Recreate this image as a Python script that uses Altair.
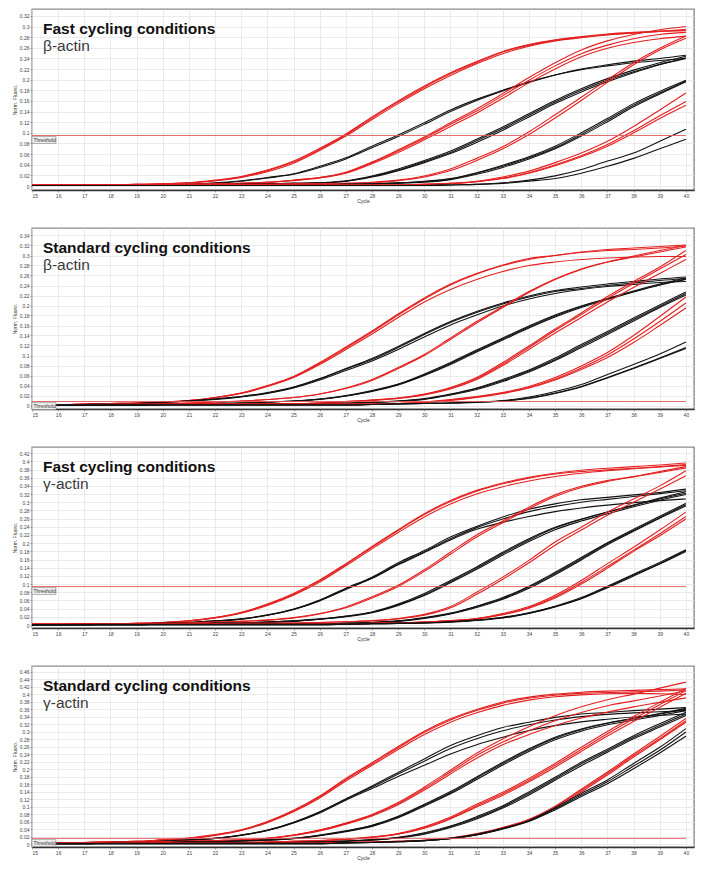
import altair as alt
import pandas as pd

CYCLES = [15, 16, 17, 18, 19, 20, 21, 22, 23, 24, 25, 26, 27, 28, 29, 30,
          31, 32, 33, 34, 35, 36, 37, 38, 39, 40]

# ---------------- Panel 1: Fast cycling, beta-actin ----------------
P1_R1A = [0.002,0.002,0.002,0.002,0.003,0.004,0.006,0.010,0.017,0.029,0.045,0.069,0.096,0.128,0.158,0.186,0.211,0.232,0.252,0.265,0.274,0.280,0.285,0.288,0.291,0.293]
P1_R1B = [0.002,0.002,0.002,0.002,0.003,0.004,0.006,0.010,0.016,0.027,0.043,0.067,0.094,0.125,0.155,0.183,0.208,0.230,0.249,0.263,0.273,0.279,0.284,0.288,0.291,0.295]
P1_R1C = [0.002,0.002,0.002,0.002,0.003,0.004,0.006,0.011,0.018,0.030,0.047,0.071,0.098,0.130,0.160,0.188,0.213,0.234,0.253,0.266,0.275,0.281,0.286,0.289,0.291,0.292]
P1_K1A = [0.001,0.001,0.001,0.001,0.001,0.002,0.003,0.006,0.010,0.016,0.023,0.037,0.053,0.075,0.096,0.119,0.143,0.163,0.180,0.196,0.209,0.219,0.226,0.232,0.236,0.240]
P1_K1B = [0.001,0.001,0.001,0.001,0.001,0.002,0.003,0.005,0.009,0.015,0.022,0.035,0.051,0.072,0.093,0.116,0.140,0.161,0.179,0.195,0.209,0.220,0.228,0.235,0.240,0.246]
P1_R2A = [0.002,0.002,0.002,0.002,0.002,0.002,0.003,0.004,0.005,0.007,0.011,0.016,0.026,0.045,0.068,0.092,0.119,0.145,0.174,0.204,0.232,0.256,0.273,0.285,0.294,0.300]
P1_R2B = [0.002,0.002,0.002,0.002,0.002,0.002,0.003,0.004,0.005,0.007,0.011,0.016,0.025,0.044,0.066,0.090,0.116,0.141,0.170,0.199,0.226,0.249,0.265,0.277,0.285,0.289]
P1_R2C = [0.002,0.002,0.002,0.002,0.002,0.002,0.003,0.004,0.005,0.007,0.010,0.015,0.024,0.042,0.063,0.087,0.112,0.137,0.165,0.194,0.220,0.243,0.259,0.270,0.277,0.282]
P1_K2A = [0.001,0.001,0.001,0.001,0.001,0.001,0.002,0.002,0.003,0.004,0.005,0.006,0.010,0.019,0.032,0.048,0.066,0.088,0.111,0.136,0.161,0.183,0.202,0.218,0.232,0.244]
P1_K2B = [0.001,0.001,0.001,0.001,0.001,0.001,0.002,0.002,0.003,0.004,0.005,0.006,0.009,0.018,0.030,0.046,0.063,0.085,0.108,0.133,0.158,0.180,0.199,0.215,0.229,0.241]
P1_K2C = [0.001,0.001,0.001,0.001,0.001,0.001,0.002,0.002,0.003,0.004,0.005,0.006,0.009,0.017,0.029,0.044,0.061,0.082,0.105,0.130,0.155,0.177,0.196,0.213,0.228,0.240]
P1_R3A = [0.002,0.002,0.002,0.002,0.002,0.002,0.002,0.002,0.003,0.003,0.004,0.004,0.005,0.007,0.011,0.019,0.032,0.052,0.074,0.102,0.134,0.167,0.200,0.232,0.259,0.282]
P1_R3B = [0.002,0.002,0.002,0.002,0.002,0.002,0.002,0.002,0.003,0.003,0.004,0.004,0.005,0.006,0.010,0.017,0.029,0.048,0.070,0.097,0.128,0.161,0.195,0.228,0.256,0.278]
P1_K3A = [0.001,0.001,0.001,0.001,0.001,0.001,0.001,0.001,0.001,0.001,0.002,0.002,0.003,0.004,0.006,0.008,0.013,0.024,0.037,0.053,0.072,0.097,0.124,0.152,0.175,0.197]
P1_K3B = [0.001,0.001,0.001,0.001,0.001,0.001,0.001,0.001,0.001,0.001,0.002,0.002,0.003,0.004,0.005,0.007,0.012,0.022,0.035,0.051,0.070,0.094,0.121,0.149,0.173,0.196]
P1_K3C = [0.001,0.001,0.001,0.001,0.001,0.001,0.001,0.001,0.001,0.001,0.002,0.002,0.003,0.004,0.006,0.009,0.014,0.025,0.039,0.055,0.075,0.100,0.127,0.155,0.178,0.199]
P1_R4A = [0.002,0.002,0.002,0.002,0.002,0.002,0.002,0.002,0.002,0.002,0.002,0.002,0.002,0.002,0.002,0.003,0.005,0.009,0.017,0.028,0.044,0.062,0.084,0.112,0.143,0.175]
P1_R4B = [0.002,0.002,0.002,0.002,0.002,0.002,0.002,0.002,0.002,0.002,0.002,0.002,0.002,0.002,0.002,0.003,0.005,0.008,0.015,0.025,0.040,0.057,0.078,0.104,0.132,0.159]
P1_R4C = [0.002,0.002,0.002,0.002,0.002,0.002,0.002,0.002,0.002,0.002,0.002,0.002,0.002,0.002,0.002,0.003,0.004,0.008,0.014,0.024,0.038,0.055,0.075,0.100,0.127,0.152]
P1_K4A = [0.001,0.001,0.001,0.001,0.001,0.001,0.001,0.001,0.001,0.001,0.001,0.001,0.001,0.001,0.001,0.001,0.002,0.003,0.006,0.011,0.019,0.031,0.047,0.062,0.084,0.107]
P1_K4B = [0.001,0.001,0.001,0.001,0.001,0.001,0.001,0.001,0.001,0.001,0.001,0.001,0.001,0.001,0.001,0.001,0.002,0.003,0.005,0.009,0.014,0.024,0.037,0.052,0.070,0.088]
P1_THRESHOLD = 0.095
P1_TICKS = [0, 0.02, 0.04, 0.06, 0.08, 0.1, 0.12, 0.14, 0.16, 0.18, 0.2, 0.22, 0.24, 0.26, 0.28, 0.3, 0.32]

# ---------------- Panel 2: Standard cycling, beta-actin ----------------
P2_R1A = [0.002,0.002,0.003,0.004,0.005,0.007,0.010,0.016,0.025,0.040,0.058,0.086,0.117,0.149,0.183,0.215,0.243,0.264,0.281,0.294,0.300,0.306,0.310,0.312,0.315,0.319]
P2_R1B = [0.002,0.002,0.003,0.004,0.005,0.007,0.010,0.016,0.025,0.039,0.057,0.084,0.115,0.147,0.181,0.213,0.241,0.263,0.280,0.292,0.300,0.307,0.312,0.315,0.318,0.321]
P2_R1C = [0.002,0.002,0.003,0.004,0.005,0.007,0.010,0.015,0.024,0.038,0.056,0.082,0.112,0.143,0.176,0.207,0.232,0.252,0.268,0.280,0.287,0.292,0.295,0.297,0.298,0.298]
P2_K1A = [0.001,0.001,0.002,0.003,0.004,0.006,0.009,0.013,0.018,0.025,0.036,0.053,0.073,0.092,0.116,0.142,0.166,0.186,0.203,0.217,0.228,0.234,0.240,0.245,0.250,0.254]
P2_K1B = [0.001,0.001,0.002,0.003,0.004,0.006,0.009,0.012,0.017,0.024,0.035,0.051,0.070,0.089,0.112,0.137,0.161,0.181,0.199,0.213,0.224,0.232,0.238,0.242,0.246,0.248]
P2_K1C = [0.001,0.001,0.002,0.003,0.004,0.006,0.009,0.013,0.018,0.026,0.037,0.054,0.074,0.094,0.118,0.144,0.168,0.188,0.205,0.219,0.230,0.237,0.243,0.248,0.253,0.257]
P2_R2A = [0.002,0.002,0.002,0.003,0.003,0.004,0.005,0.007,0.009,0.012,0.016,0.023,0.035,0.052,0.076,0.102,0.135,0.168,0.198,0.228,0.253,0.273,0.287,0.297,0.307,0.317]
P2_R2B = [0.002,0.002,0.002,0.003,0.003,0.004,0.005,0.007,0.009,0.012,0.016,0.023,0.034,0.050,0.074,0.100,0.132,0.165,0.196,0.226,0.252,0.272,0.287,0.299,0.310,0.320]
P2_K2A = [0.001,0.001,0.001,0.002,0.002,0.003,0.003,0.004,0.005,0.007,0.009,0.013,0.020,0.030,0.043,0.063,0.086,0.111,0.135,0.159,0.181,0.199,0.214,0.228,0.241,0.252]
P2_K2B = [0.001,0.001,0.001,0.002,0.002,0.003,0.003,0.004,0.005,0.007,0.009,0.013,0.019,0.029,0.042,0.061,0.084,0.109,0.133,0.157,0.179,0.198,0.214,0.229,0.243,0.255]
P2_K2C = [0.001,0.001,0.001,0.002,0.002,0.003,0.003,0.004,0.005,0.007,0.009,0.012,0.019,0.028,0.041,0.060,0.082,0.107,0.131,0.155,0.177,0.196,0.212,0.227,0.241,0.253]
P2_R3A = [0.002,0.002,0.002,0.002,0.002,0.003,0.003,0.003,0.003,0.004,0.004,0.005,0.008,0.011,0.015,0.023,0.036,0.056,0.086,0.119,0.153,0.185,0.218,0.248,0.277,0.310]
P2_R3B = [0.002,0.002,0.002,0.002,0.002,0.003,0.003,0.003,0.003,0.004,0.004,0.005,0.008,0.011,0.015,0.022,0.035,0.054,0.083,0.116,0.150,0.182,0.214,0.244,0.273,0.302]
P2_R3C = [0.002,0.002,0.002,0.002,0.002,0.003,0.003,0.003,0.003,0.004,0.004,0.005,0.007,0.010,0.014,0.021,0.033,0.052,0.080,0.112,0.145,0.176,0.207,0.236,0.264,0.292]
P2_K3A = [0.001,0.001,0.001,0.001,0.001,0.002,0.002,0.002,0.003,0.003,0.003,0.004,0.004,0.006,0.009,0.013,0.022,0.034,0.050,0.069,0.092,0.119,0.145,0.172,0.198,0.224]
P2_K3B = [0.001,0.001,0.001,0.001,0.001,0.002,0.002,0.002,0.003,0.003,0.003,0.004,0.004,0.006,0.008,0.012,0.021,0.032,0.048,0.067,0.090,0.116,0.142,0.169,0.196,0.221]
P2_K3C = [0.001,0.001,0.001,0.001,0.001,0.002,0.002,0.002,0.003,0.003,0.003,0.004,0.005,0.007,0.009,0.014,0.023,0.035,0.052,0.071,0.095,0.122,0.148,0.175,0.201,0.227]
P2_R4A = [0.002,0.002,0.002,0.002,0.002,0.002,0.003,0.003,0.003,0.003,0.003,0.003,0.003,0.003,0.004,0.007,0.012,0.018,0.026,0.038,0.056,0.079,0.106,0.140,0.178,0.217]
P2_R4B = [0.002,0.002,0.002,0.002,0.002,0.002,0.003,0.003,0.003,0.003,0.003,0.003,0.003,0.003,0.004,0.007,0.011,0.017,0.025,0.036,0.053,0.075,0.101,0.133,0.168,0.205]
P2_R4C = [0.002,0.002,0.002,0.002,0.002,0.002,0.003,0.003,0.003,0.003,0.003,0.003,0.003,0.003,0.004,0.006,0.010,0.016,0.024,0.035,0.051,0.072,0.096,0.126,0.160,0.195]
P2_K4A = [0.001,0.001,0.001,0.001,0.001,0.001,0.001,0.001,0.001,0.001,0.001,0.001,0.001,0.002,0.003,0.004,0.005,0.007,0.010,0.017,0.028,0.042,0.062,0.082,0.103,0.127]
P2_K4B = [0.001,0.001,0.001,0.001,0.001,0.001,0.001,0.001,0.001,0.001,0.001,0.001,0.001,0.002,0.003,0.004,0.005,0.007,0.009,0.015,0.025,0.038,0.056,0.075,0.095,0.116]
P2_K4C = [0.001,0.001,0.001,0.001,0.001,0.001,0.001,0.001,0.001,0.001,0.001,0.001,0.001,0.002,0.003,0.004,0.005,0.006,0.009,0.014,0.024,0.037,0.055,0.074,0.094,0.114]
P2_THRESHOLD = 0.008
P2_TICKS = [0, 0.02, 0.04, 0.06, 0.08, 0.1, 0.12, 0.14, 0.16, 0.18, 0.2, 0.22, 0.24, 0.26, 0.28, 0.3, 0.32, 0.34]

# ---------------- Panel 3: Fast cycling, gamma-actin ----------------
P3_R1A = [0.002,0.002,0.003,0.003,0.004,0.006,0.010,0.018,0.030,0.050,0.075,0.108,0.148,0.190,0.231,0.270,0.302,0.327,0.345,0.359,0.369,0.375,0.379,0.383,0.387,0.392]
P3_R1B = [0.002,0.002,0.003,0.003,0.004,0.006,0.010,0.017,0.029,0.048,0.073,0.105,0.145,0.186,0.226,0.264,0.296,0.320,0.338,0.352,0.363,0.371,0.377,0.382,0.386,0.390]
P3_R1C = [0.002,0.002,0.003,0.003,0.004,0.006,0.010,0.018,0.031,0.051,0.077,0.110,0.150,0.192,0.233,0.272,0.304,0.329,0.347,0.361,0.371,0.378,0.383,0.387,0.391,0.396]
P3_K1A = [0.001,0.001,0.002,0.002,0.003,0.004,0.006,0.010,0.015,0.025,0.039,0.061,0.090,0.117,0.152,0.182,0.215,0.241,0.264,0.283,0.296,0.306,0.312,0.318,0.324,0.332]
P3_K1B = [0.001,0.001,0.002,0.002,0.003,0.004,0.006,0.010,0.015,0.024,0.038,0.059,0.087,0.114,0.147,0.177,0.208,0.234,0.251,0.265,0.277,0.286,0.293,0.299,0.304,0.308]
P3_K1C = [0.001,0.001,0.002,0.002,0.003,0.004,0.006,0.009,0.014,0.024,0.038,0.060,0.088,0.115,0.149,0.179,0.211,0.238,0.259,0.277,0.290,0.300,0.307,0.314,0.321,0.328]
P3_R2A = [0.002,0.002,0.002,0.002,0.003,0.004,0.005,0.007,0.009,0.012,0.018,0.028,0.044,0.069,0.097,0.135,0.178,0.220,0.254,0.288,0.318,0.339,0.353,0.363,0.375,0.387]
P3_R2B = [0.002,0.002,0.002,0.002,0.003,0.004,0.005,0.007,0.009,0.012,0.017,0.027,0.042,0.066,0.094,0.131,0.173,0.215,0.250,0.284,0.314,0.336,0.351,0.362,0.373,0.384]
P3_K2A = [0.001,0.001,0.001,0.002,0.002,0.003,0.003,0.004,0.005,0.007,0.010,0.015,0.022,0.032,0.051,0.077,0.109,0.142,0.178,0.211,0.239,0.259,0.276,0.292,0.308,0.322]
P3_K2B = [0.001,0.001,0.001,0.002,0.002,0.003,0.003,0.004,0.005,0.007,0.010,0.014,0.021,0.031,0.049,0.074,0.106,0.139,0.175,0.208,0.237,0.258,0.276,0.293,0.310,0.326]
P3_K2C = [0.001,0.001,0.001,0.002,0.002,0.003,0.003,0.004,0.005,0.007,0.009,0.014,0.020,0.030,0.048,0.072,0.103,0.136,0.171,0.204,0.233,0.254,0.272,0.289,0.305,0.319]
P3_R3A = [0.002,0.002,0.002,0.002,0.002,0.003,0.003,0.003,0.004,0.004,0.005,0.006,0.008,0.011,0.016,0.026,0.045,0.080,0.117,0.158,0.203,0.239,0.276,0.308,0.340,0.377]
P3_R3B = [0.002,0.002,0.002,0.002,0.002,0.003,0.003,0.003,0.004,0.004,0.005,0.006,0.008,0.010,0.015,0.024,0.042,0.075,0.112,0.152,0.195,0.232,0.268,0.300,0.332,0.365]
P3_K3A = [0.001,0.001,0.001,0.001,0.001,0.002,0.002,0.002,0.003,0.003,0.003,0.003,0.004,0.006,0.010,0.017,0.028,0.045,0.065,0.093,0.126,0.162,0.199,0.231,0.263,0.294]
P3_K3B = [0.001,0.001,0.001,0.001,0.001,0.002,0.002,0.002,0.003,0.003,0.003,0.003,0.004,0.006,0.009,0.016,0.027,0.043,0.063,0.090,0.123,0.159,0.196,0.229,0.261,0.291]
P3_K3C = [0.001,0.001,0.001,0.001,0.001,0.002,0.002,0.002,0.003,0.003,0.003,0.003,0.004,0.006,0.010,0.018,0.029,0.046,0.067,0.095,0.129,0.165,0.201,0.234,0.266,0.297]
P3_R4A = [0.002,0.002,0.002,0.002,0.002,0.002,0.002,0.002,0.002,0.002,0.002,0.002,0.002,0.004,0.005,0.007,0.011,0.016,0.028,0.045,0.073,0.109,0.150,0.190,0.232,0.276]
P3_R4B = [0.002,0.002,0.002,0.002,0.002,0.002,0.002,0.002,0.002,0.002,0.002,0.002,0.002,0.004,0.005,0.007,0.010,0.015,0.025,0.041,0.066,0.100,0.139,0.180,0.218,0.259]
P3_R4C = [0.002,0.002,0.002,0.002,0.002,0.002,0.002,0.002,0.002,0.002,0.002,0.002,0.002,0.004,0.005,0.007,0.010,0.015,0.026,0.043,0.069,0.104,0.143,0.183,0.223,0.265]
P3_K4A = [0.001,0.001,0.001,0.001,0.001,0.001,0.001,0.001,0.001,0.001,0.001,0.001,0.002,0.003,0.004,0.005,0.008,0.012,0.018,0.029,0.045,0.065,0.093,0.122,0.150,0.182]
P3_K4B = [0.001,0.001,0.001,0.001,0.001,0.001,0.001,0.001,0.001,0.001,0.001,0.001,0.002,0.003,0.004,0.005,0.007,0.011,0.017,0.028,0.044,0.064,0.091,0.120,0.149,0.180]
P3_K4C = [0.001,0.001,0.001,0.001,0.001,0.001,0.001,0.001,0.001,0.001,0.001,0.001,0.002,0.003,0.004,0.005,0.008,0.012,0.019,0.030,0.046,0.067,0.095,0.124,0.153,0.184]
P3_THRESHOLD = 0.094
P3_TICKS = [0, 0.02, 0.04, 0.06, 0.08, 0.1, 0.12, 0.14, 0.16, 0.18, 0.2, 0.22, 0.24, 0.26, 0.28, 0.3, 0.32, 0.34, 0.36, 0.38, 0.4, 0.42]

# ---------------- Panel 4: Standard cycling, gamma-actin ----------------
P4_R1A = [0.003,0.003,0.004,0.006,0.007,0.011,0.015,0.024,0.037,0.059,0.088,0.126,0.172,0.214,0.257,0.298,0.331,0.356,0.376,0.389,0.397,0.402,0.404,0.406,0.408,0.411]
P4_R1B = [0.003,0.003,0.004,0.006,0.007,0.011,0.015,0.023,0.036,0.057,0.086,0.123,0.168,0.210,0.252,0.292,0.325,0.350,0.370,0.384,0.393,0.398,0.401,0.402,0.401,0.399]
P4_R1C = [0.003,0.003,0.004,0.006,0.007,0.011,0.016,0.025,0.038,0.060,0.090,0.128,0.175,0.217,0.260,0.301,0.334,0.359,0.379,0.392,0.400,0.405,0.408,0.410,0.412,0.414]
P4_K1A = [0.002,0.002,0.003,0.004,0.005,0.007,0.011,0.015,0.024,0.037,0.058,0.086,0.120,0.155,0.191,0.227,0.263,0.289,0.311,0.325,0.338,0.347,0.351,0.356,0.360,0.364]
P4_K1B = [0.002,0.002,0.003,0.004,0.005,0.007,0.010,0.015,0.023,0.036,0.056,0.083,0.117,0.148,0.180,0.210,0.240,0.265,0.285,0.303,0.316,0.326,0.333,0.339,0.343,0.347]
P4_K1C = [0.002,0.002,0.003,0.004,0.005,0.007,0.011,0.015,0.024,0.036,0.057,0.085,0.120,0.152,0.187,0.221,0.255,0.281,0.302,0.318,0.331,0.340,0.346,0.350,0.353,0.356]
P4_R2A = [0.003,0.003,0.003,0.004,0.005,0.006,0.007,0.009,0.011,0.015,0.024,0.037,0.055,0.077,0.108,0.148,0.192,0.236,0.272,0.302,0.329,0.351,0.369,0.382,0.395,0.409]
P4_R2B = [0.003,0.003,0.003,0.004,0.005,0.006,0.007,0.009,0.011,0.015,0.024,0.037,0.056,0.079,0.111,0.152,0.197,0.242,0.280,0.313,0.342,0.366,0.385,0.400,0.416,0.432]
P4_R2C = [0.003,0.003,0.003,0.004,0.005,0.006,0.007,0.009,0.011,0.015,0.023,0.035,0.053,0.075,0.105,0.144,0.187,0.229,0.265,0.292,0.316,0.336,0.352,0.366,0.378,0.390]
P4_K2A = [0.002,0.002,0.002,0.003,0.004,0.004,0.005,0.006,0.008,0.011,0.015,0.024,0.035,0.050,0.074,0.106,0.140,0.179,0.218,0.254,0.285,0.307,0.323,0.335,0.347,0.360]
P4_K2B = [0.002,0.002,0.002,0.003,0.004,0.004,0.005,0.006,0.008,0.011,0.015,0.023,0.034,0.049,0.072,0.104,0.137,0.176,0.215,0.251,0.282,0.305,0.322,0.335,0.348,0.362]
P4_K2C = [0.002,0.002,0.002,0.003,0.004,0.004,0.005,0.006,0.008,0.010,0.014,0.022,0.033,0.047,0.070,0.101,0.134,0.172,0.211,0.247,0.278,0.301,0.318,0.331,0.343,0.356]
P4_R3A = [0.002,0.002,0.002,0.003,0.003,0.003,0.004,0.004,0.004,0.005,0.007,0.009,0.013,0.019,0.028,0.046,0.072,0.106,0.138,0.175,0.215,0.258,0.300,0.340,0.378,0.415]
P4_R3B = [0.002,0.002,0.002,0.003,0.003,0.003,0.004,0.004,0.004,0.005,0.007,0.009,0.012,0.018,0.027,0.044,0.069,0.102,0.134,0.170,0.210,0.252,0.294,0.334,0.372,0.409]
P4_R3C = [0.002,0.002,0.002,0.003,0.003,0.003,0.004,0.004,0.004,0.005,0.007,0.009,0.012,0.018,0.026,0.042,0.067,0.099,0.130,0.166,0.205,0.247,0.288,0.327,0.365,0.402]
P4_K3A = [0.001,0.001,0.001,0.002,0.002,0.002,0.003,0.003,0.003,0.003,0.004,0.005,0.008,0.011,0.017,0.028,0.046,0.070,0.099,0.135,0.174,0.214,0.249,0.285,0.316,0.347]
P4_K3B = [0.001,0.001,0.001,0.002,0.002,0.002,0.003,0.003,0.003,0.003,0.004,0.005,0.007,0.010,0.016,0.026,0.044,0.067,0.096,0.131,0.170,0.209,0.245,0.281,0.312,0.343]
P4_K3C = [0.001,0.001,0.001,0.002,0.002,0.002,0.003,0.003,0.003,0.003,0.004,0.005,0.008,0.012,0.018,0.030,0.048,0.073,0.102,0.139,0.178,0.218,0.253,0.289,0.321,0.352]
P4_R4A = [0.002,0.002,0.002,0.002,0.002,0.002,0.002,0.002,0.002,0.002,0.002,0.002,0.004,0.005,0.007,0.010,0.016,0.027,0.043,0.064,0.099,0.143,0.188,0.236,0.281,0.329]
P4_R4B = [0.002,0.002,0.002,0.002,0.002,0.002,0.002,0.002,0.002,0.002,0.002,0.002,0.004,0.005,0.007,0.010,0.015,0.025,0.041,0.062,0.096,0.139,0.184,0.232,0.278,0.325]
P4_R4C = [0.002,0.002,0.002,0.002,0.002,0.002,0.002,0.002,0.002,0.002,0.002,0.002,0.004,0.005,0.007,0.010,0.016,0.027,0.044,0.066,0.101,0.146,0.192,0.240,0.287,0.335]
P4_K4A = [0.001,0.001,0.001,0.001,0.001,0.001,0.001,0.001,0.001,0.001,0.001,0.001,0.003,0.004,0.006,0.009,0.015,0.026,0.042,0.063,0.097,0.135,0.171,0.215,0.258,0.308]
P4_K4B = [0.001,0.001,0.001,0.001,0.001,0.001,0.001,0.001,0.001,0.001,0.001,0.001,0.003,0.004,0.006,0.009,0.015,0.025,0.041,0.062,0.094,0.131,0.166,0.208,0.250,0.299]
P4_K4C = [0.001,0.001,0.001,0.001,0.001,0.001,0.001,0.001,0.001,0.001,0.001,0.001,0.003,0.004,0.006,0.009,0.014,0.024,0.040,0.060,0.091,0.127,0.161,0.201,0.243,0.288]
P4_THRESHOLD = 0.015
P4_TICKS = [0, 0.02, 0.04, 0.06, 0.08, 0.1, 0.12, 0.14, 0.16, 0.18, 0.2, 0.22, 0.24, 0.26, 0.28, 0.3, 0.32, 0.34, 0.36, 0.38, 0.4, 0.42, 0.44, 0.46]

TITLES = ["Fast cycling conditions", "Standard cycling conditions",
          "Fast cycling conditions", "Standard cycling conditions"]
SUBTITLES = ["\u03b2-actin", "\u03b2-actin", "\u03b3-actin", "\u03b3-actin"]

PANEL_CURVES = [
    [("red", P1_R1A), ("red", P1_R1B), ("red", P1_R1C), ("black", P1_K1A), ("black", P1_K1B),
     ("red", P1_R2A), ("red", P1_R2B), ("red", P1_R2C), ("black", P1_K2A), ("black", P1_K2B),
     ("black", P1_K2C), ("red", P1_R3A), ("red", P1_R3B), ("black", P1_K3A), ("black", P1_K3B),
     ("black", P1_K3C), ("red", P1_R4A), ("red", P1_R4B), ("red", P1_R4C), ("black", P1_K4A),
     ("black", P1_K4B)],
    [("red", P2_R1A), ("red", P2_R1B), ("red", P2_R1C), ("black", P2_K1A), ("black", P2_K1B),
     ("black", P2_K1C), ("red", P2_R2A), ("red", P2_R2B), ("black", P2_K2A), ("black", P2_K2B),
     ("black", P2_K2C), ("red", P2_R3A), ("red", P2_R3B), ("red", P2_R3C), ("black", P2_K3A),
     ("black", P2_K3B), ("black", P2_K3C), ("red", P2_R4A), ("red", P2_R4B), ("red", P2_R4C),
     ("black", P2_K4A), ("black", P2_K4B), ("black", P2_K4C)],
    [("red", P3_R1A), ("red", P3_R1B), ("red", P3_R1C), ("black", P3_K1A), ("black", P3_K1B),
     ("black", P3_K1C), ("red", P3_R2A), ("red", P3_R2B), ("black", P3_K2A), ("black", P3_K2B),
     ("black", P3_K2C), ("red", P3_R3A), ("red", P3_R3B), ("black", P3_K3A), ("black", P3_K3B),
     ("black", P3_K3C), ("red", P3_R4A), ("red", P3_R4B), ("red", P3_R4C), ("black", P3_K4A),
     ("black", P3_K4B), ("black", P3_K4C)],
    [("red", P4_R1A), ("red", P4_R1B), ("red", P4_R1C), ("black", P4_K1A), ("black", P4_K1B),
     ("black", P4_K1C), ("red", P4_R2A), ("red", P4_R2B), ("red", P4_R2C), ("black", P4_K2A),
     ("black", P4_K2B), ("black", P4_K2C), ("red", P4_R3A), ("red", P4_R3B), ("red", P4_R3C),
     ("black", P4_K3A), ("black", P4_K3B), ("black", P4_K3C), ("red", P4_R4A), ("red", P4_R4B),
     ("red", P4_R4C), ("black", P4_K4A), ("black", P4_K4B), ("black", P4_K4C)],
]
THRESHOLDS = [P1_THRESHOLD, P2_THRESHOLD, P3_THRESHOLD, P4_THRESHOLD]
TICKS = [P1_TICKS, P2_TICKS, P3_TICKS, P4_TICKS]
Y_DOMAINS = [(-0.0075, 0.333), (-0.007, 0.355), (-0.0073, 0.435), (-0.008, 0.475)]

X_DOMAIN = (15, 40.31)
PLOT_W = 662
PLOT_H = 181
RED = "#e41f1f"
BLACK = "#111111"
LABEL_FONT = "Liberation Sans"


def make_panel(i):
    rows = []
    for k, (col, vals) in enumerate(PANEL_CURVES[i]):
        assert len(vals) == len(CYCLES), (i, k, len(vals))
        for c, v in zip(CYCLES, vals):
            rows.append({"curve": f"c{k:02d}", "col": col, "cycle": c, "value": v})
    df = pd.DataFrame(rows)
    tdf = pd.DataFrame({"x0": [CYCLES[0]], "x1": [CYCLES[-1]], "thr": [THRESHOLDS[i]]})

    xscale = alt.Scale(domain=list(X_DOMAIN), nice=False, zero=False)
    yscale = alt.Scale(domain=list(Y_DOMAINS[i]), nice=False, zero=False)
    xaxis = alt.Axis(values=CYCLES, title="Cycle", format="d", grid=True)
    yaxis = alt.Axis(values=TICKS[i], title="Norm. Fluoro.", format=".2~f", grid=True)

    lines = alt.Chart(df).mark_line(strokeWidth=1.1, interpolate="monotone").encode(
        x=alt.X("cycle:Q", scale=xscale, axis=xaxis),
        y=alt.Y("value:Q", scale=yscale, axis=yaxis),
        detail="curve:N",
        color=alt.Color("col:N", scale=alt.Scale(domain=["black", "red"], range=[BLACK, RED]),
                        legend=None),
    )
    rule = alt.Chart(tdf).mark_rule(color="#e35a5a", strokeWidth=0.9).encode(
        x=alt.X("x0:Q", scale=xscale, axis=xaxis),
        x2="x1:Q",
        y=alt.Y("thr:Q", scale=yscale, axis=yaxis),
    )
    box = alt.Chart(tdf).mark_rect(fill="#eeeeee", stroke="#8a8a8a", strokeWidth=0.6,
                                   yOffset=1, y2Offset=8).encode(
        x=alt.value(0), x2=alt.value(24),
        y=alt.Y("thr:Q", scale=yscale, axis=yaxis), y2="thr:Q",
    )
    boxtext = alt.Chart(tdf).mark_text(text="Threshold", align="left", baseline="middle",
                                       fontSize=5, dy=4.8, color="#333333",
                                       font=LABEL_FONT).encode(
        x=alt.value(1.5), y=alt.Y("thr:Q", scale=yscale, axis=yaxis),
    )
    title = alt.Chart(tdf).mark_text(text=TITLES[i], align="left", baseline="alphabetic",
                                     fontSize=15.5, fontWeight="bold", color="#111111",
                                     font="Liberation Sans").encode(
        x=alt.value(11), y=alt.value(25))
    sub = alt.Chart(tdf).mark_text(text=SUBTITLES[i], align="left", baseline="alphabetic",
                                   fontSize=15.5, fontWeight="normal", color="#3a3a3a",
                                   font="Liberation Sans").encode(
        x=alt.value(11), y=alt.value(42))
    return alt.layer(lines, rule, box, boxtext, title, sub).properties(
        width=PLOT_W, height=PLOT_H)


chart = alt.vconcat(*[make_panel(i) for i in range(4)], spacing=23).properties(
    padding={"left": 3, "top": 0, "right": 0, "bottom": 0}
).configure_view(
    stroke="#8c8c8c", strokeWidth=1.4
).configure_axis(
    labelFont=LABEL_FONT, labelFontSize=5, labelColor="#444444",
    titleFont=LABEL_FONT, titleFontSize=5, titleFontWeight="normal", titleColor="#333333",
    tickColor="#777777", tickSize=2, tickWidth=0.6,
    gridColor="#e3e3e3", gridWidth=0.7,
).configure_axisX(
    domainColor="#333333", domainWidth=1.4, labelPadding=1, titlePadding=0,
).configure_axisY(
    domain=False, labelPadding=1, titlePadding=1, minExtent=14, maxExtent=14,
)

chart.save("out.html", embed_options={"renderer": "svg", "actions": False})
